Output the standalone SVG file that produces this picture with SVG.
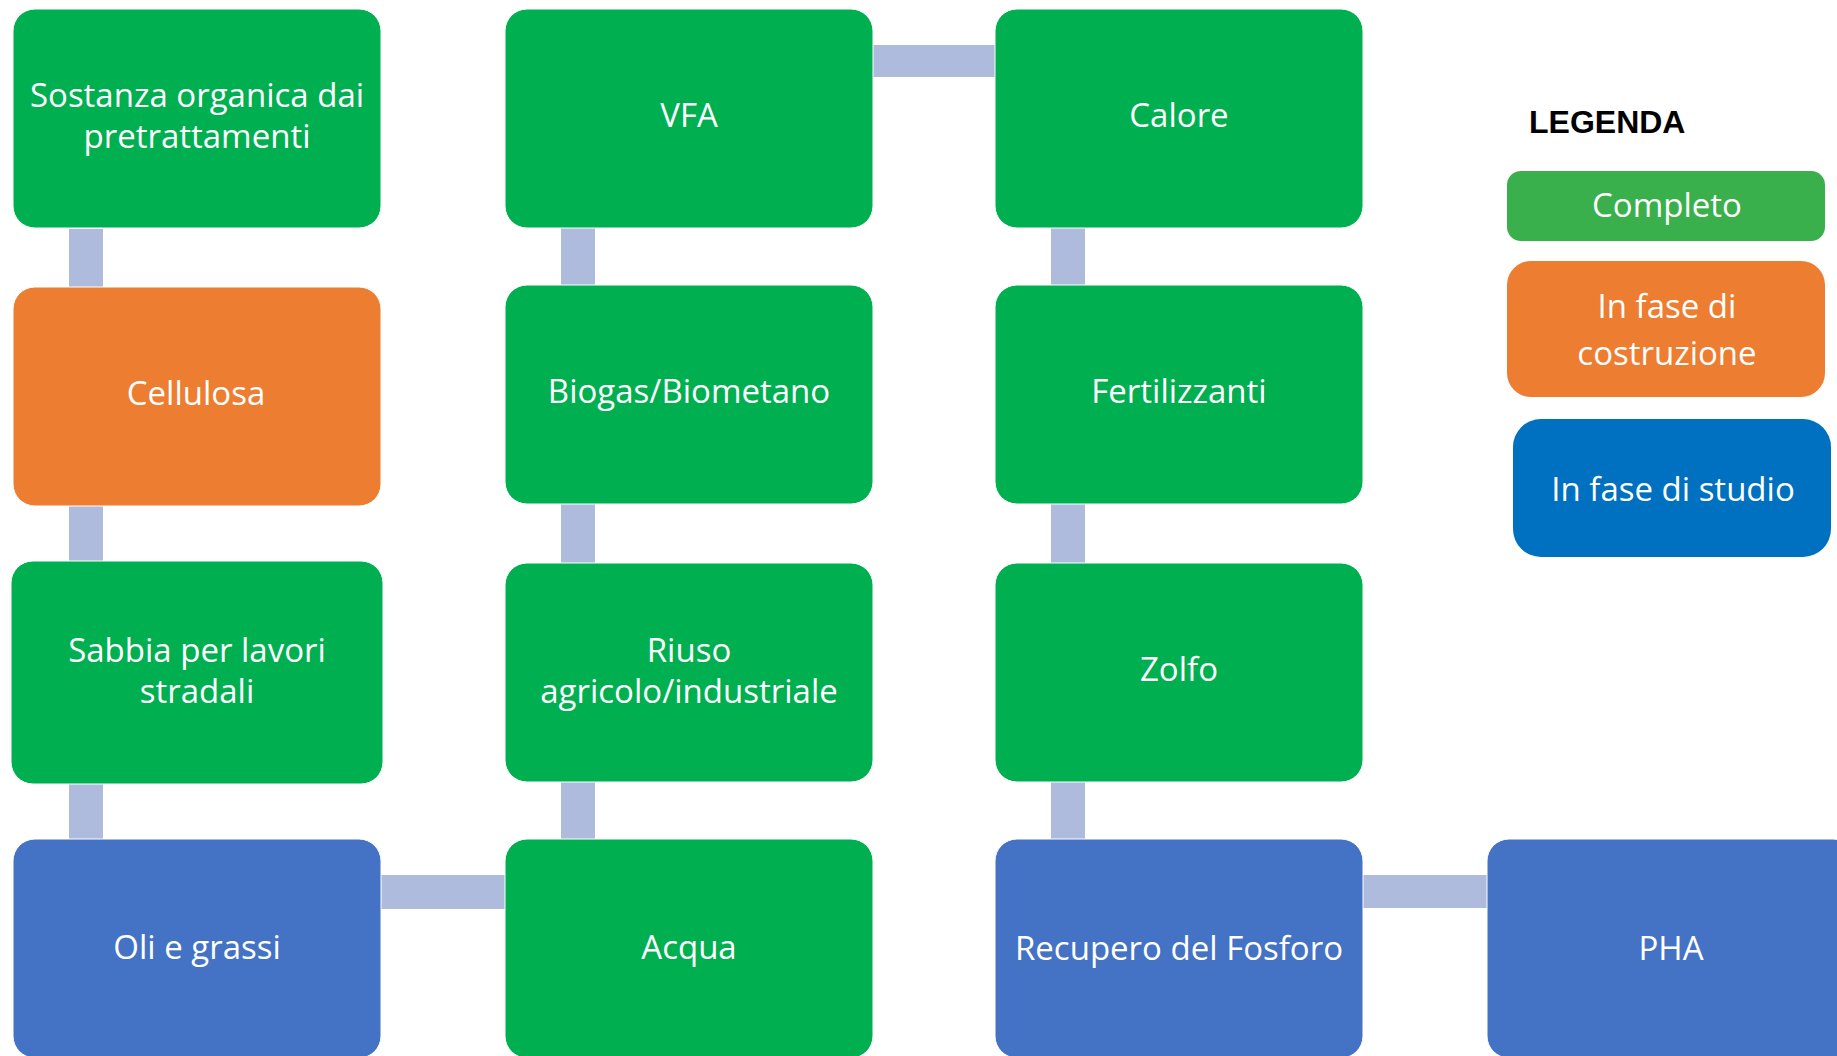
<svg xmlns="http://www.w3.org/2000/svg" width="1837" height="1056" viewBox="0 0 1837 1056">
  <style>
    .node { stroke: #ffffff; stroke-width: 1; }
    .green { fill: #00B050; }
    .orange { fill: #ED7D31; }
    .blue { fill: #4472C4; }
    .link { fill: #AFBBDD; }
    .label { font-family: "Open Sans", "Noto Sans", sans-serif; font-size: 33px; fill: #ffffff; text-anchor: middle; }
    .title { font-family: "Liberation Sans", Arial, sans-serif; font-weight: bold; font-size: 32px; fill: #000000; }
  </style>
  <rect width="1837" height="1056" fill="#ffffff"/>

  <!-- connectors -->
  <g id="connectors">
    <rect class="link" x="69" y="229" width="34" height="58"/>
    <rect class="link" x="69" y="506" width="34" height="55"/>
    <rect class="link" x="69" y="784" width="34" height="55"/>
    <rect class="link" x="561" y="228" width="34" height="57"/>
    <rect class="link" x="561" y="504" width="34" height="59"/>
    <rect class="link" x="561" y="781" width="34" height="58"/>
    <rect class="link" x="1051" y="228" width="34" height="57"/>
    <rect class="link" x="1051" y="504" width="34" height="59"/>
    <rect class="link" x="1051" y="782" width="34" height="57"/>
    <rect class="link" x="873" y="45" width="122" height="32"/>
    <rect class="link" x="381" y="875" width="124" height="34"/>
    <rect class="link" x="1363" y="875" width="124" height="33"/>
  </g>

  <!-- column 1 -->
  <g id="sostanza">
    <rect class="node green" x="13" y="9" width="368" height="219" rx="22"/>
    <text class="label" x="197" y="107">Sostanza organica dai</text>
    <text class="label" x="197" y="148">pretrattamenti</text>
  </g>
  <g id="cellulosa">
    <rect class="node orange" x="13" y="287" width="368" height="219" rx="22"/>
    <text class="label" x="196" y="405">Cellulosa</text>
  </g>
  <g id="sabbia">
    <rect class="node green" x="11" y="561" width="372" height="223" rx="22"/>
    <text class="label" x="197" y="662">Sabbia per lavori</text>
    <text class="label" x="197" y="703">stradali</text>
  </g>
  <g id="oli">
    <rect class="node blue" x="13" y="839" width="368" height="219" rx="22"/>
    <text class="label" x="197" y="959">Oli e grassi</text>
  </g>

  <!-- column 2 -->
  <g id="vfa">
    <rect class="node green" x="505" y="9" width="368" height="219" rx="22"/>
    <text class="label" x="689" y="127">VFA</text>
  </g>
  <g id="biogas">
    <rect class="node green" x="505" y="285" width="368" height="219" rx="22"/>
    <text class="label" x="689" y="403">Biogas/Biometano</text>
  </g>
  <g id="riuso">
    <rect class="node green" x="505" y="563" width="368" height="219" rx="22"/>
    <text class="label" x="689" y="662">Riuso</text>
    <text class="label" x="689" y="703">agricolo/industriale</text>
  </g>
  <g id="acqua">
    <rect class="node green" x="505" y="839" width="368" height="219" rx="22"/>
    <text class="label" x="689" y="959">Acqua</text>
  </g>

  <!-- column 3 -->
  <g id="calore">
    <rect class="node green" x="995" y="9" width="368" height="219" rx="22"/>
    <text class="label" x="1179" y="127">Calore</text>
  </g>
  <g id="fertilizzanti">
    <rect class="node green" x="995" y="285" width="368" height="219" rx="22"/>
    <text class="label" x="1179" y="403">Fertilizzanti</text>
  </g>
  <g id="zolfo">
    <rect class="node green" x="995" y="563" width="368" height="219" rx="22"/>
    <text class="label" x="1179" y="681">Zolfo</text>
  </g>
  <g id="fosforo">
    <rect class="node blue" x="995" y="839" width="368" height="219" rx="22"/>
    <text class="label" x="1179" y="960">Recupero del Fosforo</text>
  </g>

  <!-- column 4 -->
  <g id="pha">
    <rect class="node blue" x="1487" y="839" width="368" height="219" rx="22"/>
    <text class="label" x="1671" y="960">PHA</text>
  </g>

  <!-- legend -->
  <g id="legenda">
    <text class="title" x="1529" y="133">LEGENDA</text>
    <rect x="1507" y="171" width="318" height="70" rx="14" fill="#3AB04C"/>
    <text class="label" x="1667" y="217">Completo</text>
    <rect x="1507" y="261" width="318" height="136" rx="24" fill="#ED7D31"/>
    <text class="label" x="1667" y="318">In fase di</text>
    <text class="label" x="1667" y="365">costruzione</text>
    <rect x="1513" y="419" width="318" height="138" rx="28" fill="#0070C0"/>
    <text class="label" x="1673" y="501">In fase di studio</text>
  </g>
</svg>
